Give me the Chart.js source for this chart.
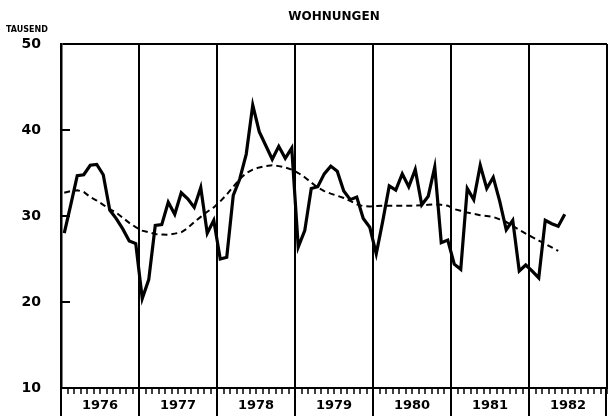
<!DOCTYPE html>
<html>
<head>
<meta charset="utf-8">
<script src="https://cdn.jsdelivr.net/npm/chart.js@4"></script>
<style>
    body { margin: 0; background: #fff; }
    #wrap { width: 611px; height: 420px; }
</style>
</head>
<body>
<div id="wrap"><canvas id="myChart" width="611" height="420"></canvas></div>
<script>
// Jahre (Beschriftung der x-Achse)
const jahre = ['1976', '1977', '1978', '1979', '1980', '1981', '1982'];

// y-Achse in Tausend
const yMin = 10;
const yMax = 50;
const yTicks = [10, 20, 30, 40, 50];

// Monatswerte Wohnungen, Jan 1976 - Jun 1982
const wohnungen = [
    28.0, 31.3, 34.7, 34.8, 35.9, 36.0, 34.8, 30.7, 29.7, 28.5, 27.1, 26.8,
    20.4, 22.6, 28.9, 29.0, 31.6, 30.2, 32.7, 32.0, 31.0, 33.3, 28.0, 29.5,
    25.0, 25.2, 32.4, 34.3, 37.2, 42.9, 39.8, 38.2, 36.6, 38.1, 36.7, 37.9,
    26.4, 28.3, 33.2, 33.4, 34.9, 35.8, 35.2, 32.9, 31.9, 32.2, 29.7, 28.7,
    25.6, 29.4, 33.5, 33.0, 34.9, 33.4, 35.4, 31.3, 32.3, 35.7, 26.9, 27.2,
    24.4, 23.8, 33.2, 31.9, 35.9, 33.2, 34.5, 31.7, 28.4, 29.5, 23.6, 24.3,
    23.6, 22.8, 29.5, 29.1, 28.8, 30.2
];

// Trend (gestrichelt), Jan 1976 - Mai 1982
const trend = [
    32.7, 32.9, 33.0, 32.8, 32.2, 31.8, 31.3, 30.8, 30.4, 29.8, 29.2, 28.7,
    28.3, 28.1, 27.9, 27.85, 27.8, 27.95, 28.1, 28.6, 29.3, 29.9, 30.5, 31.0,
    31.7, 32.5, 33.4, 34.3, 35.0, 35.4, 35.65, 35.8, 35.9, 35.8, 35.65, 35.4,
    35.0, 34.5, 33.9, 33.3, 32.9, 32.6, 32.35, 32.1, 31.75, 31.35, 31.15, 31.1,
    31.15, 31.2, 31.2, 31.2, 31.2, 31.2, 31.2, 31.25, 31.3, 31.35, 31.3, 31.2,
    30.8, 30.6, 30.4, 30.25, 30.1, 30.0, 29.9, 29.6, 29.3, 28.85, 28.4, 27.95,
    27.55, 27.15, 26.75, 26.35, 25.95
];

const fonte = "'DejaVu Sans', sans-serif";
const monate = jahre.length * 12;

// Monatswert in die Mitte des Monats setzen
function paraPontos(valores) {
    return valores.map((v, i) => ({ x: i + 0.5, y: v }));
}

// Kleine Zusatzstriche: Jahresgrenzen nach unten, y-Ticks nach innen, TAUSEND
const extras = {
    id: 'extras',
    afterDraw(chart) {
        const ctx = chart.ctx;
        const x = chart.scales.x;
        const y = chart.scales.y;
        const area = chart.chartArea;
        const eixo = x.getPixelForValue(0);
        ctx.save();
        ctx.strokeStyle = '#000';
        ctx.lineWidth = 2;
        for (let m = 0; m <= monate; m += 12) {
            const px = Math.min(x.getPixelForValue(m), area.right - 1);
            ctx.beginPath();
            ctx.moveTo(px, area.bottom);
            ctx.lineTo(px, area.bottom + 28);
            ctx.stroke();
        }
        yTicks.forEach(t => {
            if (t == yMin || t == yMax) return;
            const py = y.getPixelForValue(t);
            ctx.beginPath();
            ctx.moveTo(eixo, py);
            ctx.lineTo(eixo + 9, py);
            ctx.stroke();
        });
        ctx.fillStyle = '#000';
        ctx.font = "bold 8px " + fonte;
        ctx.textAlign = 'left';
        ctx.textBaseline = 'middle';
        ctx.fillText('TAUSEND', 6, 30);
        ctx.restore();
    }
};

const config = {
    type: 'line',
    data: {
        datasets: [
            {
                label: 'Wohnungen',
                data: paraPontos(wohnungen),
                borderColor: '#000',
                borderWidth: 3.2,
                pointRadius: 0,
                tension: 0,
                borderJoinStyle: 'miter'
            },
            {
                label: 'Trend',
                data: paraPontos(trend),
                borderColor: '#000',
                borderWidth: 2,
                borderDash: [6, 4],
                pointRadius: 0,
                tension: 0
            }
        ]
    },
    options: {
        responsive: false,
        animation: false,
        layout: { padding: { left: 0, right: 1, top: 0, bottom: 0 } },
        plugins: {
            legend: { display: false },
            tooltip: { enabled: false },
            title: {
                display: true,
                fullSize: false,
                text: 'WOHNUNGEN',
                color: '#000',
                font: { family: fonte, size: 12, weight: 'bold', lineHeight: 1.2 },
                padding: { top: 10, bottom: 19.6 }
            }
        },
        scales: {
            x: {
                type: 'linear',
                min: 0,
                max: monate,
                afterFit(scale) { scale.height = 420 - 388; },
                ticks: {
                    stepSize: 1,
                    autoSkip: false,
                    maxRotation: 0,
                    padding: 4,
                    color: '#000',
                    font: { family: fonte, size: 13, weight: 'bold' },
                    callback: v => (v % 12 == 6 ? jahre[(v - 6) / 12] : '')
                },
                grid: {
                    color: c => (c.tick && c.tick.value % 12 == 0 ? '#000' : 'rgba(0,0,0,0)'),
                    lineWidth: 2,
                    drawTicks: true,
                    tickLength: 6,
                    tickColor: '#000',
                    tickWidth: 1.5
                },
                border: { display: true, color: '#000', width: 2 }
            },
            y: {
                min: yMin,
                max: yMax,
                afterFit(scale) { scale.width = 61; },
                afterBuildTicks(scale) { scale.ticks = yTicks.map(v => ({ value: v })); },
                ticks: {
                    padding: 20,
                    color: '#000',
                    font: { family: fonte, size: 14, weight: 'bold' }
                },
                grid: {
                    color: c => (c.tick && c.tick.value == yMax ? '#000' : 'rgba(0,0,0,0)'),
                    lineWidth: 2,
                    drawTicks: false
                },
                border: { display: true, color: '#000', width: 2.5 }
            }
        }
    },
    plugins: [extras]
};

const myChart = new Chart(document.getElementById('myChart'), config);
</script>
</body>
</html>
